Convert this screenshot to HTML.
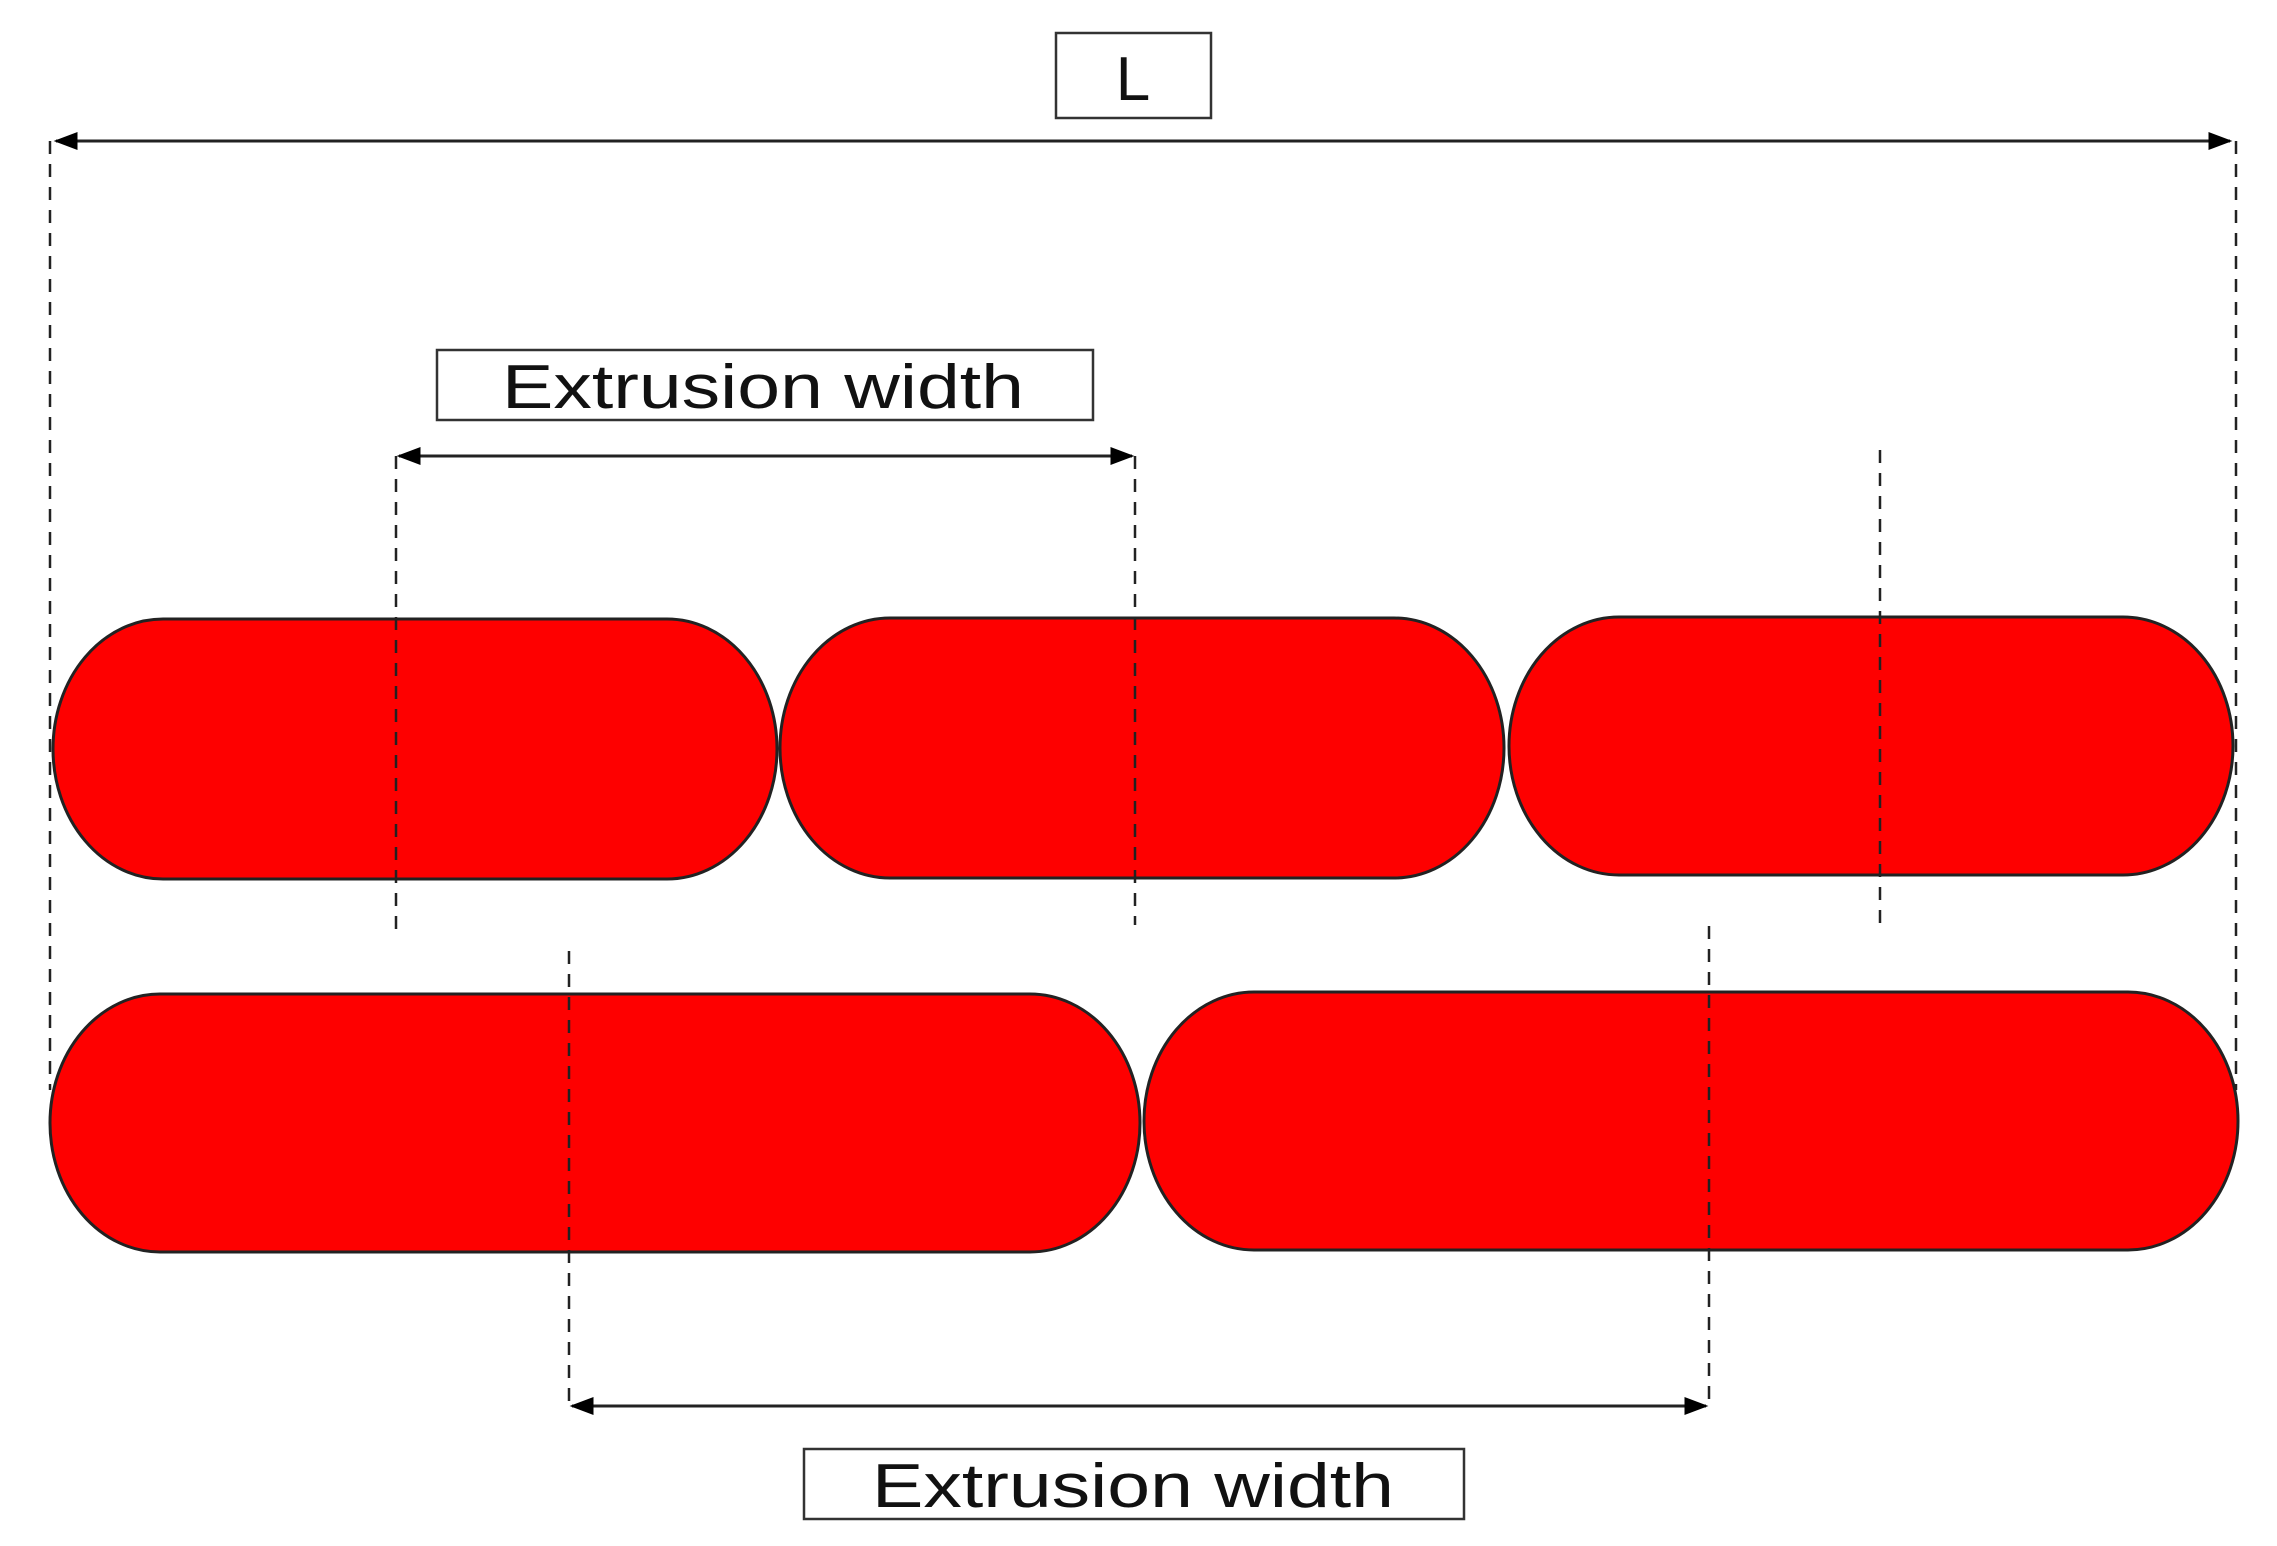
<!DOCTYPE html>
<html><head><meta charset="utf-8"><style>html,body{margin:0;padding:0;background:#fff}svg{display:block}</style></head>
<body>
<svg width="2277" height="1546" viewBox="0 0 2277 1546" xmlns="http://www.w3.org/2000/svg">
<defs>
<marker id="a" viewBox="0 0 10 10" refX="9" refY="5" markerWidth="24" markerHeight="18" markerUnits="userSpaceOnUse" orient="auto-start-reverse" preserveAspectRatio="none"><path d="M0,0 L10,5 L0,10 z" fill="#000"/></marker>
</defs>
<g stroke="#222" stroke-width="3" fill="#fe0000">
<path d="M163,619 H667 A110,130 0 0 1 667,879 H163 A110,130 0 0 1 163,619 Z"/>
<path d="M890,618 H1394 A110,130 0 0 1 1394,878 H890 A110,130 0 0 1 890,618 Z"/>
<path d="M1619,617 H2123 A110,129 0 0 1 2123,875 H1619 A110,129 0 0 1 1619,617 Z"/>
<path d="M160,994 H1030 A110,129 0 0 1 1030,1252 H160 A110,129 0 0 1 160,994 Z"/>
<path d="M1254,992 H2128 A110,129 0 0 1 2128,1250 H1254 A110,129 0 0 1 1254,992 Z"/>
</g>
<g stroke="#222" stroke-width="2.5" stroke-dasharray="13,10" fill="none">
<line x1="50" y1="141" x2="50" y2="1090"/>
<line x1="2236" y1="141" x2="2236" y2="1090"/>
<line x1="396" y1="456" x2="396" y2="929"/>
<line x1="1135" y1="456" x2="1135" y2="925"/>
<line x1="1880" y1="450" x2="1880" y2="925"/>
<line x1="569" y1="951" x2="569" y2="1406"/>
<line x1="1709" y1="926" x2="1709" y2="1406"/>
</g>
<g stroke="#222" stroke-width="3" fill="none">
<line x1="56" y1="141" x2="2230" y2="141" marker-start="url(#a)" marker-end="url(#a)"/>
<line x1="399" y1="456" x2="1132" y2="456" marker-start="url(#a)" marker-end="url(#a)"/>
<line x1="572" y1="1406" x2="1706" y2="1406" marker-start="url(#a)" marker-end="url(#a)"/>
</g>
<g stroke="#333" stroke-width="2.5" fill="#fff">
<rect x="1056" y="33" width="155" height="85"/>
<rect x="437" y="350" width="656" height="70"/>
<rect x="804" y="1449" width="660" height="70"/>
</g>
<g font-family="'Liberation Sans', sans-serif" fill="#111" font-size="62">
<text x="1133" y="100" text-anchor="middle">L</text>
<text x="502" y="408" textLength="522" lengthAdjust="spacingAndGlyphs">Extrusion width</text>
<text x="872" y="1507" textLength="522" lengthAdjust="spacingAndGlyphs">Extrusion width</text>
</g>
</svg>
</body></html>
